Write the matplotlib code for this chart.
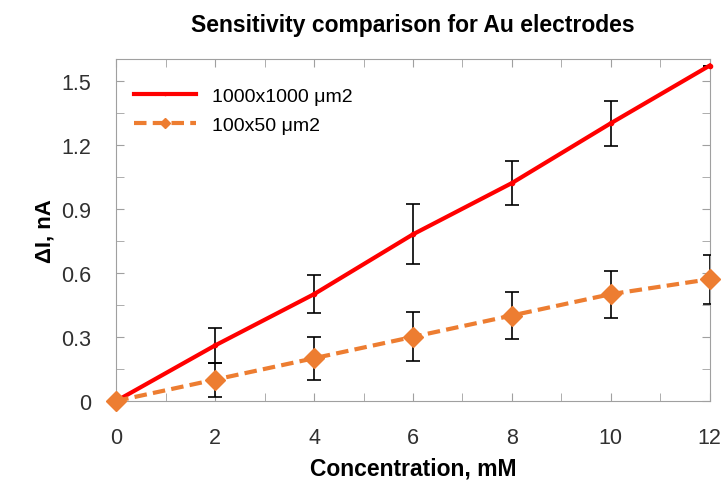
import matplotlib.pyplot as plt
from matplotlib.ticker import MultipleLocator

plt.rcParams['font.family'] = ['Liberation Sans', 'DejaVu Sans']

conc = [0, 2, 4, 6, 8, 10, 12]
big_vals = [0, 0.26, 0.50, 0.78, 1.02, 1.30, 1.57]
big_err = [0, 0.08, 0.09, 0.14, 0.105, 0.105, 0]
small_vals = [0, 0.10, 0.20, 0.30, 0.40, 0.50, 0.57]
small_err = [0, 0.08, 0.10, 0.115, 0.11, 0.11, 0.115]

fig = plt.figure(figsize=(7.22, 4.89), dpi=100)
ax = fig.add_axes([0.161, 0.178, 0.822, 0.699])

eb1 = ax.errorbar(conc, big_vals, yerr=big_err, color='#FF0000', lw=3, marker='o',
                  ms=3, ecolor='black', elinewidth=1.2, capsize=5, capthick=1.2,
                  label='1000x1000 μm2', zorder=3)
eb2 = ax.errorbar(conc, small_vals, yerr=small_err, color='#ED7D31', lw=3, ls='--',
                  dashes=(3, 1.5), marker='D', ms=10, ecolor='black', elinewidth=1.2,
                  capsize=5, capthick=1.2, label='100x50 μm2', zorder=4)
eb1[0].set_clip_on(False)
eb2[0].set_clip_on(False)

ax.set_xlim(0, 12)
ax.set_ylim(0, 1.6)
ax.xaxis.set_major_locator(MultipleLocator(2))
ax.xaxis.set_minor_locator(MultipleLocator(1))
ax.yaxis.set_minor_locator(MultipleLocator(0.15))
ax.set_yticks([0, 0.3, 0.6, 0.9, 1.2, 1.5])
ax.set_yticklabels(['0', '0.3', '0.6', '0.9', '1.2', '1.5'])
ax.tick_params(which='both', direction='in', top=True, right=True,
               color='#A0A0A0', length=6)
ax.tick_params(which='major', labelsize=15.5, labelcolor='#303030')
ax.tick_params(axis='x', which='major', pad=19)
ax.tick_params(axis='y', which='major', pad=18)
for s in ax.spines.values():
    s.set_color('#A0A0A0')

ax.set_xlabel('Concentration, mM', fontsize=16.5, fontweight='bold', labelpad=6)
ax.set_ylabel('ΔI, nA', fontsize=16, fontweight='bold', labelpad=4)
ax.set_title('Sensitivity comparison for Au electrodes', fontsize=16.5,
             fontweight='bold', pad=20)

h, l = ax.get_legend_handles_labels()
h = [x[0] for x in h]
ax.legend(h, l, loc='upper left', frameon=False, fontsize=14, handlelength=3.2,
          markerscale=0.5, bbox_to_anchor=(0.0, 0.97), labelspacing=0.6)

fig.savefig('out.png', dpi=100)
